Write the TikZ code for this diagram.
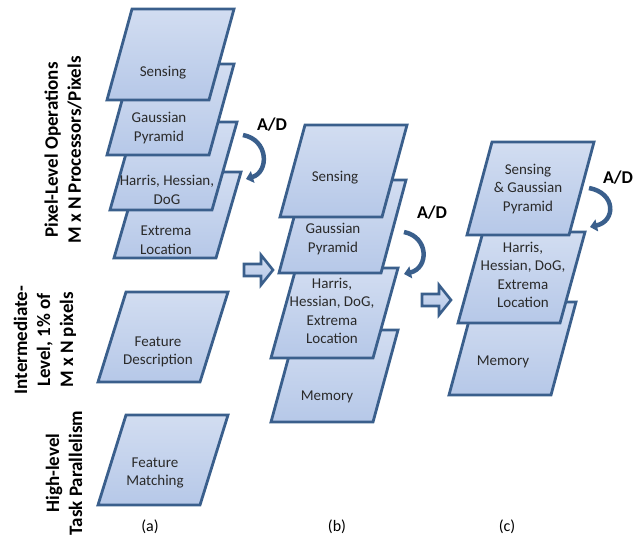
\documentclass[tikz,border=0pt]{standalone}
\usepackage{fontspec}
\setmainfont{Carlito}
\usetikzlibrary{arrows.meta}
\definecolor{edgeblue}{HTML}{3A5F8C}
\definecolor{filltop}{HTML}{D2DDF1}
\definecolor{fillbot}{HTML}{B6C8E8}
\definecolor{txt}{HTML}{2A2A2A}
\tikzset{
  pbox/.style={draw=edgeblue, line width=2.8pt, line join=miter, top color=filltop, bottom color=fillbot},
  lbl/.style={align=center, text=txt, inner sep=0pt, font=\fontsize{15}{18.5}\selectfont},
  side/.style={align=center, rotate=90, inner sep=0pt, font=\fontsize{19}{23}\selectfont\bfseries},
  adtxt/.style={inner sep=0pt, font=\fontsize{18}{20}\selectfont\bfseries},
  captxt/.style={inner sep=0pt, font=\fontsize{16}{18}\selectfont},
  curarrow/.style={draw=edgeblue, line width=4.5pt, -{Triangle[length=7pt,width=12pt]}},
  blockarrow/.style={draw=edgeblue, line width=2.6pt, line join=miter, top color=filltop, bottom color=fillbot},
}
% \pgram{bottom-left x}{bottom y}{top y}
\newcommand\pgram[3]{\path[pbox] (#1,#2) -- ++(102,0) -- (#1+127,#3) -- (#1+25,#3) -- cycle;}
\begin{document}
\begin{tikzpicture}[x=1pt,y=-1pt]
\useasboundingbox (0,0) rectangle (644,546);
% column (a)
\pgram{114}{258}{172}
\pgram{110}{210}{122}
\pgram{107}{155}{64}
\pgram{107}{100}{9}
\path[pbox] (98,382) -- (200,382) -- (228,292) -- (126,292) -- cycle;
\path[pbox] (98,505) -- (200,505) -- (228,415) -- (126,415) -- cycle;
\node[lbl] (aSen) at (163,73) {Sensing};
\node[lbl] (aGau) at (159,128) {Gaussian\\Pyramid};
\node[lbl] (aHar) at (167,190) {Harris, Hessian,\\DoG};
\node[lbl] (aExt) at (166,240) {Extrema\\Location};
\node[lbl] (aFD) at (158,352) {Feature\\Description};
\node[lbl] (aFM) at (155,473) {Feature\\Matching};
% column (b)
\pgram{271}{422}{330}
\pgram{271}{358}{268}
\pgram{279}{273}{180}
\pgram{280}{217}{125}
\node[lbl] (bSen) at (335,178) {Sensing};
\node[lbl] (bGau) at (333,239) {Gaussian\\Pyramid};
\node[lbl] (bHar) at (332,311) {Harris,\\Hessian, DoG,\\Extrema\\Location};
\node[lbl] (bMem) at (327,397) {Memory};
% column (c)
\pgram{449}{395}{302}
\pgram{458}{323}{232}
\pgram{467}{235}{142}
\node[lbl] (cSen) at (528,189) {Sensing\\\& Gaussian\\Pyramid};
\node[lbl] (cHar) at (523,275) {Harris,\\Hessian, DoG,\\Extrema\\Location};
\node[lbl] (cMem) at (503,362) {Memory};
% side labels
\node[side] (pix) at (63,150) {Pixel-Level Operations\\M x N Processors/Pixels};
\node[side] (inter) at (45,340) {Intermediate-\\Level, 1\% of\\M x N pixels};
\node[side] (high) at (64,473) {High-level\\Task Parallelism};
% A/D arrows
\node[adtxt] (ad1) at (272,125) {A/D};
\node[adtxt] (ad2) at (432,213) {A/D};
\node[adtxt] (ad3) at (618,178) {A/D};
\coordinate (s1) at (243,135); \coordinate (e1) at (246,179);
\coordinate (s2) at (404,232); \coordinate (e2) at (404,274);
\coordinate (s3) at (589,188); \coordinate (e3) at (590,227);
\draw[curarrow] (s1) .. controls (269,140) and (269,172) .. (e1);
\draw[curarrow] (s2) .. controls (429,237) and (429,268) .. (e2);
\draw[curarrow] (s3) .. controls (616,193) and (616,221) .. (e3);
% block arrows
\path[blockarrow] (244,264) -- (261,264) -- (261,255) -- (273,270) -- (261,285) -- (261,276) -- (244,276) -- cycle;
\path[blockarrow] (422,294) -- (439,294) -- (439,285) -- (451,300) -- (439,315) -- (439,306) -- (422,306) -- cycle;
% captions
\node[captxt] (ca) at (150,527) {(a)};
\node[captxt] (cb) at (337,527) {(b)};
\node[captxt] (cc) at (507,527) {(c)};
\end{tikzpicture}
\end{document}
